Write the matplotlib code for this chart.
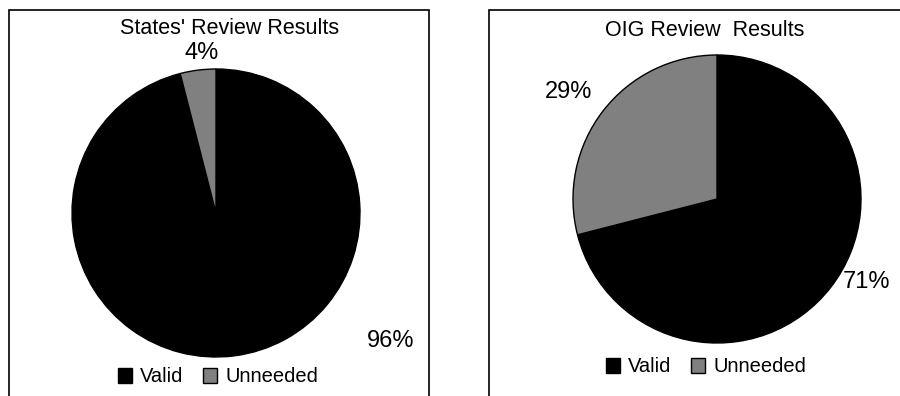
import matplotlib.pyplot as plt
from matplotlib.patches import Rectangle

plt.rcParams['font.family'] = ['Liberation Sans', 'DejaVu Sans']

categories = ["Valid", "Unneeded"]
states_pct = [96, 4]
oig_pct = [71, 29]
colors = ["#000000", "#808080"]

W, H = 900, 396

fig = plt.figure(figsize=(9, 3.96), dpi=100)

def fx(px):
    return px / W

def fy(py):
    return (H - py) / H

# panel borders (bottom runs off the figure)
for x0, x1 in [(9, 429), (489, 960)]:
    fig.add_artist(Rectangle((fx(x0), fy(420)), fx(x1) - fx(x0), fy(10) - fy(420),
                             transform=fig.transFigure, fill=False,
                             edgecolor="black", linewidth=1.2))

panels = [
    ("States' Review Results", states_pct, (216, 213), (230, 28),
     [(391, 341), (202, 53)], (218, 377)),
    ("OIG Review  Results", oig_pct, (717, 199), (705, 31),
     [(866, 282), (569, 92)], (706, 367)),
]

r = 144
for title, vals, (cx, cy), (tx, ty), lab_pos, (lx, ly) in panels:
    ax = fig.add_axes([fx(cx - r), fy(cy + r), fx(2 * r), fy(cy - r) - fy(cy + r)])
    wedges, _ = ax.pie(vals, colors=colors, startangle=90, counterclock=False,
                       wedgeprops=dict(edgecolor="black", linewidth=1.0))
    ax.set_xlim(-1, 1)
    ax.set_ylim(-1, 1)
    ax.axis("off")

    fig.text(fx(tx), fy(ty), title, ha="center", va="center", fontsize=15.5)
    for v, (px, py) in zip(vals, lab_pos):
        fig.text(fx(px), fy(py), f"{v}%", ha="center", va="center", fontsize=17)

    fig.legend(wedges, categories, loc="center", bbox_to_anchor=(fx(lx), fy(ly)),
               ncol=2, frameon=False, fontsize=14.5, handlelength=0.7,
               handleheight=0.7, handletextpad=0.4, columnspacing=1.0,
               borderpad=0)

fig.savefig("out.png", dpi=100)
